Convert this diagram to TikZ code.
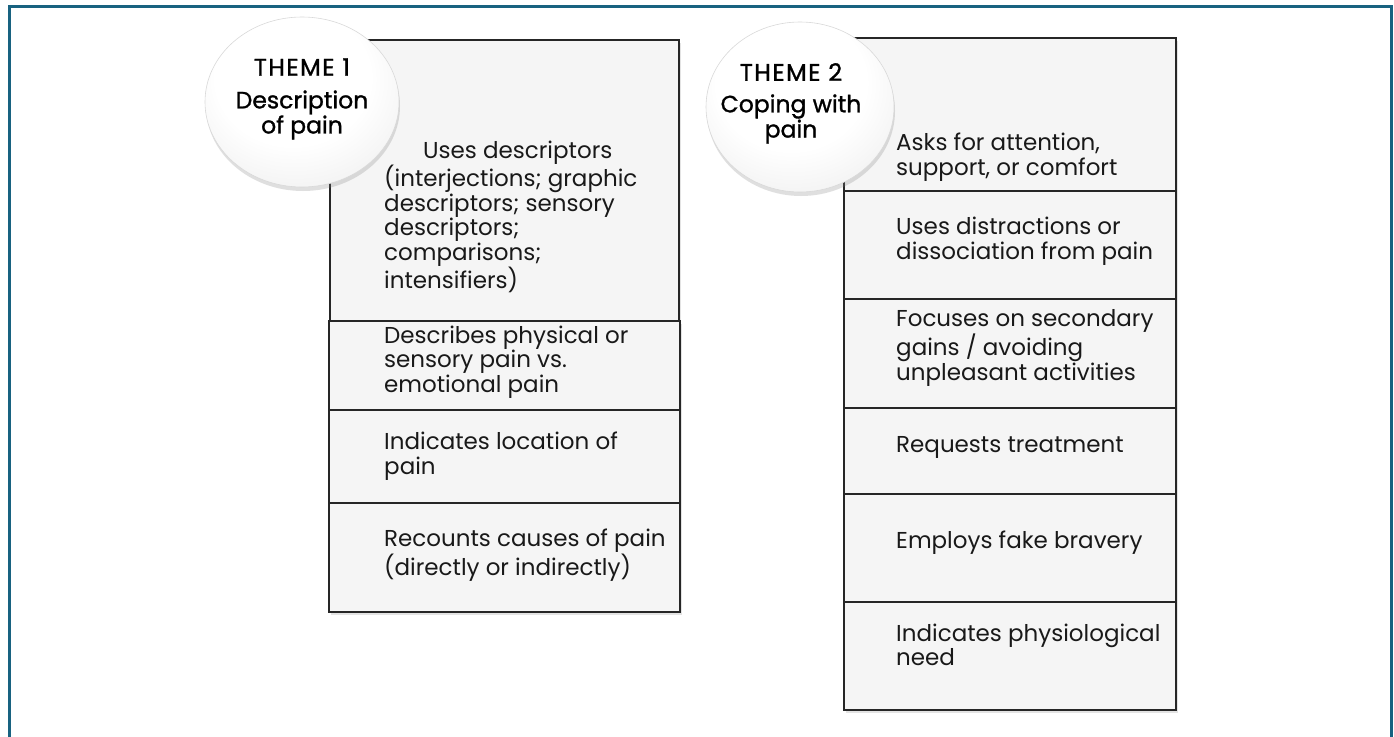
\documentclass[tikz,border=0pt]{standalone}
\usepackage{fontspec}
\setmainfont{Poppins}
\newfontfamily\headfont[FakeBold=1.2,LetterSpace=6]{Poppins}
\newfontfamily\subfont[FakeBold=1.2]{Poppins}
\usetikzlibrary{shapes.geometric,shadows}
\definecolor{frameteal}{RGB}{24,98,128}
\definecolor{boxfill}{RGB}{245,245,245}
\definecolor{boxline}{RGB}{38,38,38}
\pgfdeclareradialshading{ballshade}{\pgfpoint{-4bp}{12bp}}{%
  color(0bp)=(white); color(20bp)=(white); color(34bp)=(black!6);
  color(44bp)=(black!16); color(50bp)=(black!28)}
\tikzset{
  cell/.style={draw=boxline, line width=1.5pt, fill=boxfill, rectangle,
    inner sep=0pt, anchor=north west,
    drop shadow={opacity=0.22, shadow xshift=2pt, shadow yshift=-3pt}},
  txt/.style={anchor=west, align=left, inner sep=0pt, text=black!90,
    font=\fontsize{23}{24.5}\selectfont},
  ball/.style={ellipse, inner sep=0pt, draw=black!15, line width=0.6pt,
    shading=ballshade,
    drop shadow={opacity=0.25, shadow xshift=1pt, shadow yshift=-4pt}},
  headtxt/.style={align=center, inner sep=0pt, text=black,
    font=\headfont\fontsize{24}{24}\selectfont},
  subtxt/.style={align=center, inner sep=0pt, text=black,
    font=\subfont\fontsize{23.5}{21.5}\selectfont},
}
\begin{document}
\begin{tikzpicture}[x=1pt, y=-1pt]
\useasboundingbox (0,0) rectangle (1394,736);
\clip (0,0) rectangle (1394,736);
\fill[white] (0,0) rectangle (1394,736);
\draw[frameteal, line width=3pt] (9,6) rectangle (1391,760);

% Theme 1 column
\node[cell, minimum width=349pt, minimum height=281pt] (b11) at (329,39) {};
\node[cell, minimum width=351pt, minimum height=89pt] (b12) at (328,320) {};
\node[cell, minimum width=351pt, minimum height=93pt] (b13) at (328,409) {};
\node[cell, minimum width=351pt, minimum height=109pt] (b14) at (328,502) {};

% Theme 2 column
\node[cell, minimum width=332pt, minimum height=153pt] (b21) at (843,37) {};
\node[cell, minimum width=332pt, minimum height=108pt] (b22) at (843,190) {};
\node[cell, minimum width=332pt, minimum height=109pt] (b23) at (843,298) {};
\node[cell, minimum width=332pt, minimum height=86pt] (b24) at (843,407) {};
\node[cell, minimum width=332pt, minimum height=108pt] (b25) at (843,493) {};
\node[cell, minimum width=332pt, minimum height=108pt] (b26) at (843,601) {};

% Texts theme 1
\node[txt] (t11) at (384,217) {\hspace*{39pt}Uses descriptors\\(interjections; graphic\\descriptors; sensory\\descriptors;\\comparisons;\\intensifiers)};
\node[txt] (t12) at (384,362) {Describes physical or\\sensory pain vs.\\emotional pain};
\node[txt] (t13) at (384,456) {Indicates location of\\pain};
\node[txt] (t14) at (384,555) {Recounts causes of pain\\(directly or indirectly)};

% Texts theme 2
\node[txt] (t21) at (896,157) {Asks for attention,\\support, or comfort};
\node[txt] (t22) at (896,241) {Uses distractions or\\dissociation from pain};
\node[txt] (t23) at (896,348) {Focuses on secondary\\gains / avoiding\\unpleasant activities};
\node[txt] (t24) at (896,447) {Requests treatment};
\node[txt] (t25) at (896,543) {Employs fake bravery};
\node[txt] (t26) at (896,645) {Indicates physiological\\need};

% Theme circles
\node[ball, minimum width=194pt, minimum height=170pt] (c1) at (302,102) {};
\node[headtxt] (h1) at (302,67) {THEME 1};
\node[subtxt] (s1) at (302,115) {Description\\of pain};

\node[ball, minimum width=188pt, minimum height=170pt] (c2) at (800,107) {};
\node[headtxt] (h2) at (791,72) {THEME 2};
\node[subtxt] (s2) at (791,119) {Coping with\\pain};
\end{tikzpicture}
\end{document}
